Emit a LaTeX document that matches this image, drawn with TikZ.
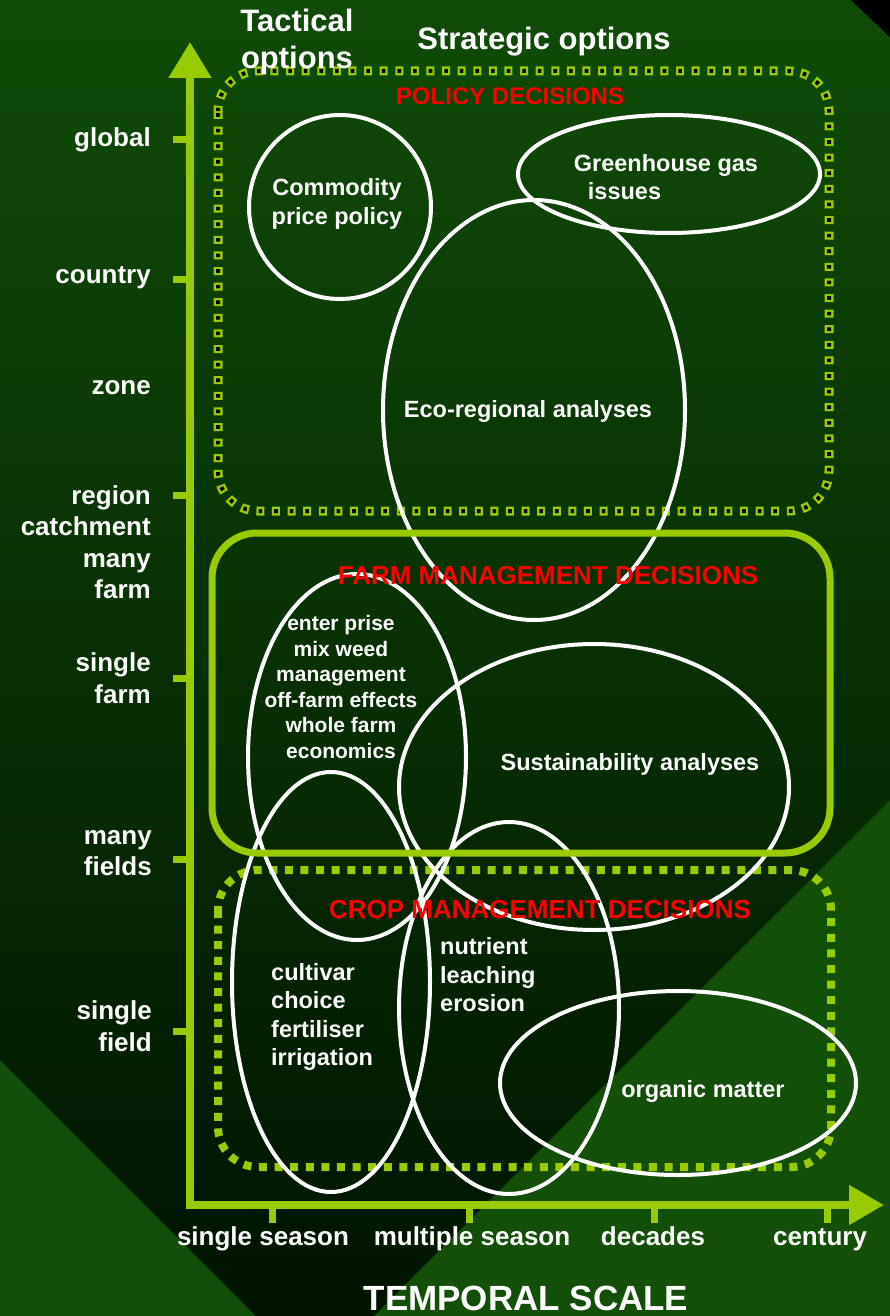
\documentclass[tikz,border=0pt]{standalone}
\usepackage{fontspec}
\setmainfont{Liberation Sans}
\usetikzlibrary{arrows.meta}
\definecolor{lime}{HTML}{99CC00}
\definecolor{bgtop}{RGB}{15,76,6}
\definecolor{bgbot}{RGB}{0,20,0}
\definecolor{bgtri}{RGB}{17,80,6}
\tikzset{
  axisline/.style={line width=8pt,draw=lime},
  scaletick/.style={line width=7pt,draw=lime},
  scalelabel/.style={text=white,font=\fontsize{26}{31.5}\selectfont\bfseries,align=right,anchor=east,inner sep=0pt},
  timelabel/.style={text=white,font=\fontsize{26}{31}\selectfont\bfseries,inner sep=0pt,anchor=base},
  heading/.style={text=white,font=\fontsize{31}{37}\selectfont\bfseries,inner sep=0pt},
  zone/.style={draw=white,line width=4pt},
  zonetext/.style={text=white,font=\fontsize{23.5}{28.5}\selectfont\bfseries,inner sep=0pt},
  decision/.style={text=red,font=\fontsize{26}{30}\selectfont\bfseries,inner sep=0pt},
  dotline/.style={draw=lime,line width=8pt,dash pattern=on 8pt off 7.6pt,rounded corners=40pt},
}
\begin{document}
\begin{tikzpicture}[x=1pt,y=-1pt]
% background
\shade[top color=bgtop,bottom color=bgbot] (0,0) rectangle (890,1316);
\useasboundingbox (0,0) rectangle (890,1316);
\fill[bgtri] (0,1060) -- (256,1316) -- (0,1316) -- cycle;
\fill[bgtri] (890,800) -- (890,1316) -- (374,1316) -- cycle;
\fill[black] (851,0) -- (890,0) -- (890,37) -- cycle;
% decision boxes
\draw[dotline,line width=9pt] (218,71) rectangle (829,511);
\draw[black,line width=4pt,dash pattern=on 3.6pt off 12pt,dash phase=13.4pt,rounded corners=40pt] (218,71) rectangle (829,511);
\draw[dotline] (218,870) rectangle (831,1167);
% zones
\draw[zone] (340,207) ellipse [x radius=91,y radius=92];
\draw[zone] (669,174) ellipse [x radius=151,y radius=59];
\draw[zone] (534,410) ellipse [x radius=151,y radius=210];
\draw[zone] (357,757) ellipse [x radius=109,y radius=183];
\draw[zone] (594,787) ellipse [x radius=195,y radius=143];
\draw[zone] (331,982) ellipse [x radius=99,y radius=210];
\draw[zone] (509,1008) ellipse [x radius=110,y radius=186];
\draw[zone] (678,1083) ellipse [x radius=178,y radius=92];
\draw[draw=lime,line width=7pt,rounded corners=45pt] (212,533) rectangle (830,853);
% axes
\coordinate (origin) at (190,1205);
\coordinate (ytip) at (190,42);
\coordinate (xtip) at (884,1205);
\draw[axisline,-{Triangle[width=41pt,length=36pt]}] ([yshift=-4pt]origin) -- (ytip);
\draw[axisline,-{Triangle[width=38pt,length=35pt]}] ([xshift=-4pt]origin) -- (xtip);
\foreach \y in {140,279,495,678,859,1031}
  \draw[scaletick] (173,\y) -- (190,\y);
\foreach \x in {272,469,654,827}
  \draw[scaletick] (\x,1205) -- (\x,1223);
% spatial scale
\node[scalelabel] (global) at (151,140) {global};
\node[scalelabel] (country) at (151,278) {country};
\node[scalelabel] (zone) at (151,388) {zone};
\node[scalelabel] (region) at (151,542) {region\\catchment\\many\\farm};
\node[scalelabel] (farm) at (151,678) {single\\farm};
\node[scalelabel] (fields) at (152,853) {many\\fields};
\node[scalelabel] (field) at (152,1026) {single\\field};
% temporal scale
\node[timelabel] (season) at (263,1245) {single season};
\node[timelabel] (seasons) at (472,1245) {multiple season};
\node[timelabel] (decades) at (653,1245) {decades};
\node[timelabel] (century) at (820,1245) {century};
\node[timelabel,font=\fontsize{35}{40}\selectfont\bfseries] (temporal) at (526,1310) {TEMPORAL SCALE};
\node[heading,align=center] (tactical) at (297,42) {Tactical\\options};
\node[heading] (strategic) at (544,42) {Strategic options};
% zone texts
\node[zonetext,align=center] (commodity) at (337,204) {Commodity\\price policy};
\node[zonetext,align=left] (ghg) at (666,177) {Greenhouse gas\\\hspace*{14pt}issues};
\node[zonetext] (eco) at (528,411) {Eco-regional analyses};
\node[zonetext,align=center,font=\fontsize{21}{25.6}\selectfont\bfseries] (enterprise) at (341,687) {enter prise\\mix weed\\management\\off-farm effects\\whole farm\\economics};
\node[zonetext] (sustain) at (630,764) {Sustainability analyses};
\node[zonetext,align=left,anchor=west] (cultivar) at (271,1017) {cultivar\\choice\\fertiliser\\irrigation};
\node[zonetext,align=left,anchor=west] (nutrient) at (440,975) {nutrient\\leaching\\erosion};
\node[zonetext] (organic) at (703,1091) {organic matter};
% decision labels
\node[decision,font=\fontsize{24}{28}\selectfont\bfseries] (policy) at (510,96) {POLICY DECISIONS};
\node[decision] (farmdec) at (548,576) {FARM MANAGEMENT DECISIONS};
\node[decision] (cropdec) at (540,910) {CROP MANAGEMENT DECISIONS};
\end{tikzpicture}
\end{document}
